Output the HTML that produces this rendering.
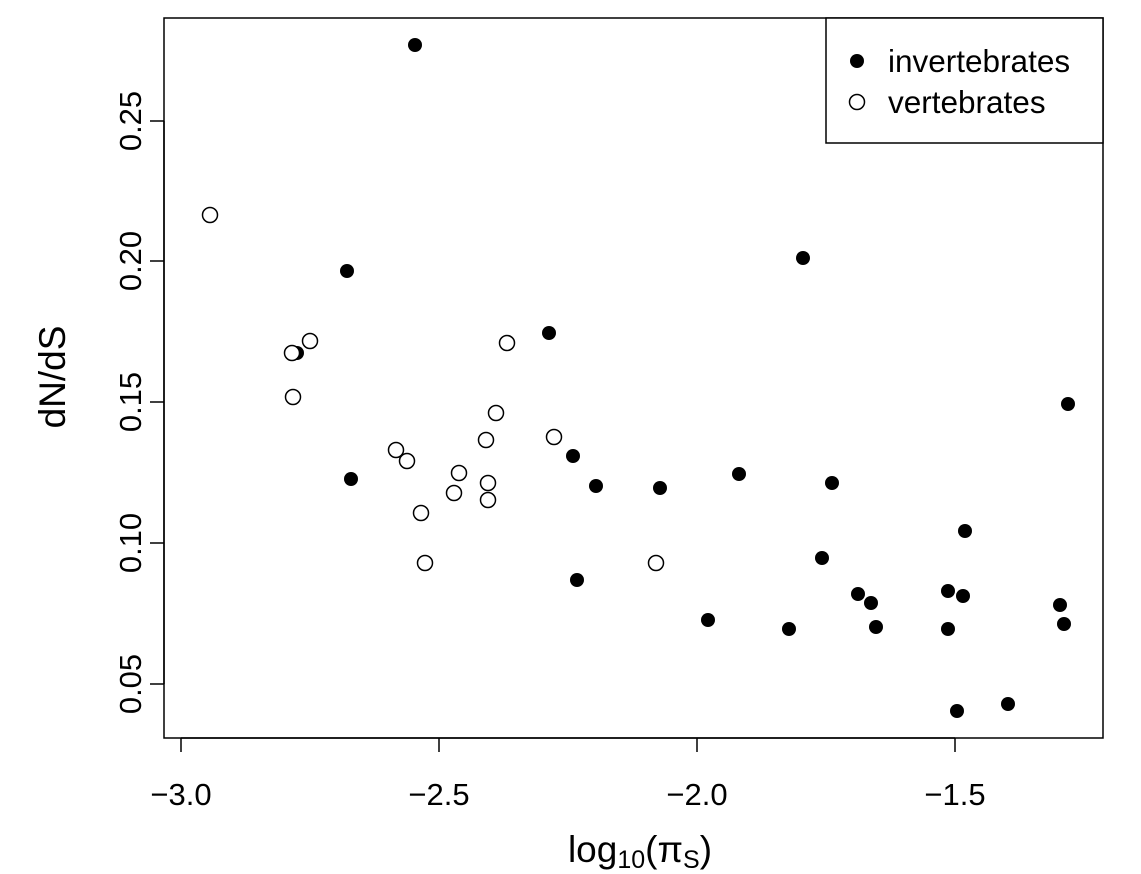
<!DOCTYPE html>
<html><head><meta charset="utf-8"><style>body{margin:0;background:#fff}svg{display:block}</style></head><body>
<svg width="1141" height="874" xmlns="http://www.w3.org/2000/svg" font-family="Liberation Sans, sans-serif">
<rect x="164" y="18" width="939" height="720" fill="none" stroke="#000" stroke-width="1.5"/>
<g stroke="#000" stroke-width="1.5">
<line x1="181" y1="738" x2="955" y2="738"/>
<line x1="181" y1="738" x2="181" y2="752"/><line x1="439" y1="738" x2="439" y2="752"/><line x1="697" y1="738" x2="697" y2="752"/><line x1="955" y1="738" x2="955" y2="752"/>
<line x1="164" y1="121" x2="164" y2="684"/>
<line x1="150" y1="121" x2="164" y2="121"/><line x1="150" y1="261" x2="164" y2="261"/><line x1="150" y1="402" x2="164" y2="402"/><line x1="150" y1="543" x2="164" y2="543"/><line x1="150" y1="684" x2="164" y2="684"/>
</g>
<g font-size="31" text-anchor="middle" fill="#000">
<text x="181" y="805">−3.0</text><text x="439" y="805">−2.5</text><text x="697" y="805">−2.0</text><text x="955" y="805">−1.5</text>
<text transform="translate(141,121) rotate(-90)">0.25</text>
<text transform="translate(141,261) rotate(-90)">0.20</text>
<text transform="translate(141,402) rotate(-90)">0.15</text>
<text transform="translate(141,543) rotate(-90)">0.10</text>
<text transform="translate(141,684) rotate(-90)">0.05</text>
</g>
<text transform="translate(65,377) rotate(-90)" font-size="37" text-anchor="middle">dN/dS</text>
<text x="640" y="862" font-size="37" text-anchor="middle">log<tspan font-size="25" dy="6">10</tspan><tspan dy="-6">(π</tspan><tspan font-size="25" dy="6">S</tspan><tspan dy="-6">)</tspan></text>
<g fill="#000">
<circle cx="415" cy="45" r="7"/><circle cx="347" cy="271" r="7"/><circle cx="297" cy="353" r="7"/><circle cx="351" cy="479" r="7"/><circle cx="549" cy="333" r="7"/><circle cx="573" cy="456" r="7"/><circle cx="577" cy="580" r="7"/><circle cx="596" cy="486" r="7"/><circle cx="660" cy="488" r="7"/><circle cx="708" cy="620" r="7"/><circle cx="739" cy="474" r="7"/><circle cx="789" cy="629" r="7"/><circle cx="803" cy="258" r="7"/><circle cx="822" cy="558" r="7"/><circle cx="832" cy="483" r="7"/><circle cx="858" cy="594" r="7"/><circle cx="871" cy="603" r="7"/><circle cx="876" cy="627" r="7"/><circle cx="948" cy="591" r="7"/><circle cx="948" cy="629" r="7"/><circle cx="957" cy="711" r="7"/><circle cx="963" cy="596" r="7"/><circle cx="965" cy="531" r="7"/><circle cx="1008" cy="704" r="7"/><circle cx="1060" cy="605" r="7"/><circle cx="1064" cy="624" r="7"/><circle cx="1068" cy="404" r="7"/>
</g>
<g fill="#fff" stroke="#000" stroke-width="1.5">
<circle cx="210" cy="215" r="7.5"/><circle cx="292" cy="353" r="7.5"/><circle cx="310" cy="341" r="7.5"/><circle cx="293" cy="397" r="7.5"/><circle cx="396" cy="450" r="7.5"/><circle cx="407" cy="461" r="7.5"/><circle cx="421" cy="513" r="7.5"/><circle cx="425" cy="563" r="7.5"/><circle cx="454" cy="493" r="7.5"/><circle cx="459" cy="473" r="7.5"/><circle cx="486" cy="440" r="7.5"/><circle cx="488" cy="483" r="7.5"/><circle cx="488" cy="500" r="7.5"/><circle cx="496" cy="413" r="7.5"/><circle cx="507" cy="343" r="7.5"/><circle cx="554" cy="437" r="7.5"/><circle cx="656" cy="563" r="7.5"/>
</g>
<rect x="826" y="18" width="277" height="125" fill="#fff" stroke="#000" stroke-width="1.5"/>
<circle cx="857" cy="61" r="7" fill="#000"/>
<circle cx="857" cy="102" r="7.5" fill="#fff" stroke="#000" stroke-width="1.5"/>
<text x="888" y="72" font-size="31.5">invertebrates</text>
<text x="888" y="113" font-size="31.5">vertebrates</text>
</svg>
</body></html>
